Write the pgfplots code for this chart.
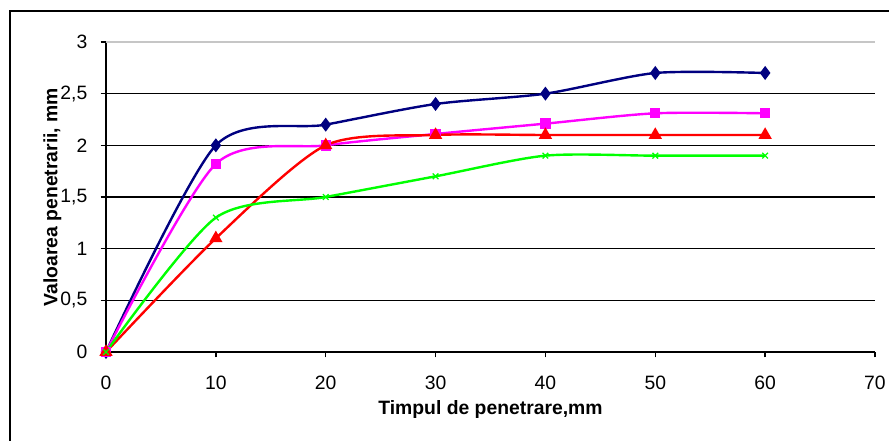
\documentclass[border=0pt]{standalone}
\usepackage{fontspec}
\setmainfont{Liberation Sans}
\usepackage{pgfplots}
\pgfplotsset{compat=1.18}
\definecolor{navyc}{RGB}{0,0,128}
\definecolor{magc}{RGB}{255,0,255}
\definecolor{redc}{RGB}{255,0,0}
\definecolor{greenc}{RGB}{0,255,0}
\begin{document}
\begin{tikzpicture}
\useasboundingbox (0,0) rectangle (666.75pt,330.75pt);
\draw[line width=1.3pt] (7.5pt,-2pt) -- (7.5pt,322.5pt) -- (670pt,322.5pt);
\begin{axis}[
  at={(79.5pt,66.75pt)}, anchor=south west,
  scale only axis, width=576.75pt, height=232.5pt,
  xmin=0, xmax=70, ymin=0, ymax=3,
  xtick={0,10,...,70},
  ytick={0,0.5,...,2.5},
  extra y ticks={3},
  extra y tick style={grid style={color=gray!45, line width=1.2pt}},
  axis x line=bottom, axis y line=left,
  axis line style={line width=1.2pt, -},
  tick align=outside,
  major tick length=4pt,
  tick style={black, line width=1pt},
  ymajorgrids, grid style={black, line width=1.2pt},
  /pgf/number format/use comma,
  /pgf/number format/assume math mode=true,
  ticklabel style={font=\fontsize{14.5}{16}\selectfont},
  xticklabel style={yshift=-10.5pt},
  yticklabel style={xshift=-6.5pt},
  xlabel={Timpul de penetrare,mm},
  ylabel={Valoarea penetrarii, mm},
  label style={font=\fontsize{14.5}{16}\selectfont\bfseries},
  xlabel style={at={(axis description cs:0.5,-0.184)}, anchor=center},
  ylabel style={at={(axis description cs:-0.0696,0.5)}, anchor=center},
  clip=false,
  every axis plot/.append style={line width=1.8pt, smooth, tension=0.45},
]
\addplot[color=navyc, mark=diamond*, mark size=3.8pt, mark options={solid, fill=navyc}] coordinates {
 (0,0) (10,2.0) (20,2.2) (30,2.4) (40,2.5) (50,2.7) (60,2.7)};
\addplot[color=magc, mark=square*, mark size=3pt, mark options={fill=magc}] coordinates {
 (0,0) (10,1.82) (20,2.0) (30,2.11) (40,2.21) (50,2.31) (60,2.31)};
\addplot[color=redc, mark=triangle*, mark size=4pt, mark options={fill=redc}] coordinates {
 (0,0) (10,1.1) (20,2.0) (30,2.1) (40,2.1) (50,2.1) (60,2.1)};
\addplot[color=greenc, mark=x, mark size=3pt, mark options={line width=1pt}] coordinates {
 (0,0) (10,1.3) (20,1.5) (30,1.7) (40,1.9) (50,1.9) (60,1.9)};
\end{axis}
\end{tikzpicture}
\end{document}
